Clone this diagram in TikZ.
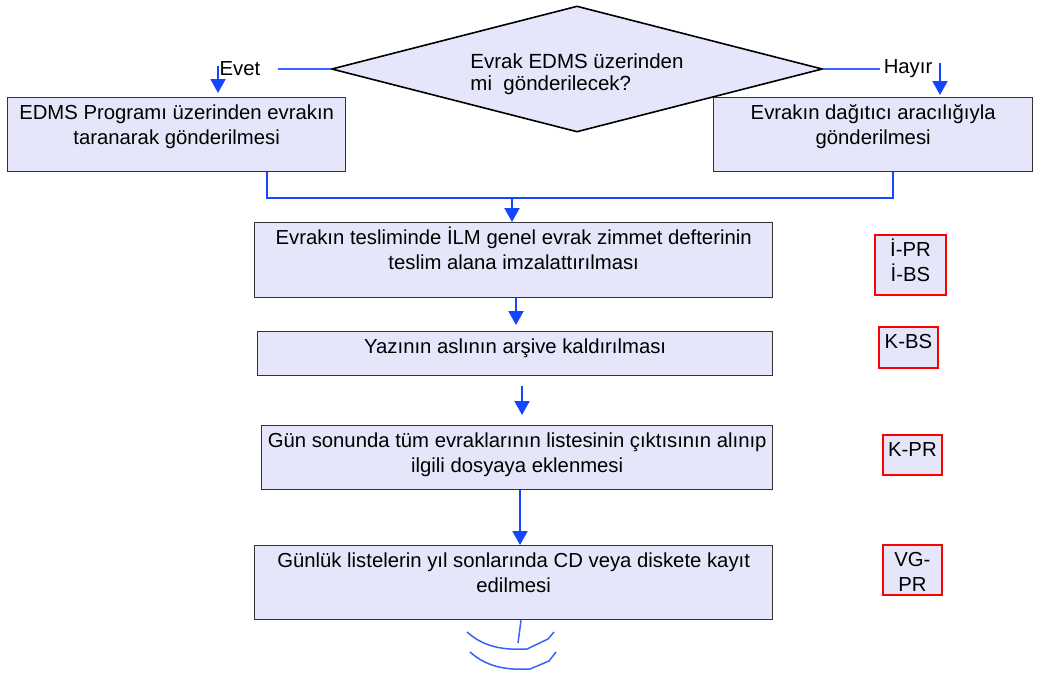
\documentclass[tikz,border=0pt]{standalone}
\usepackage{fontspec}
\setmainfont{Liberation Sans}
\usepackage{tikz}
\usetikzlibrary{arrows.meta,shapes.geometric}
\definecolor{lavbox}{RGB}{230,230,250}
\definecolor{flowblue}{RGB}{20,70,255}
\definecolor{edgegray}{RGB}{51,51,51}
\newcommand{\boxtxt}[3]{\parbox[c][#2][t]{#1}{\centering\rule{0pt}{22pt}#3}}

\begin{document}
\begin{tikzpicture}[x=1pt,y=-1pt,>={Triangle[width=15pt,length=14pt]},
	font=\fontsize{20.3}{25}\selectfont,
	procbox/.style={draw=edgegray,fill=lavbox,line width=1.3pt,inner sep=0pt,anchor=north west},
	docbox/.style={draw=red,fill=lavbox,line width=1.8pt,inner sep=0pt,anchor=north west},
	decision/.style={diamond,draw=black,fill=lavbox,line width=1.6pt,aspect=3.9,minimum width=491pt,minimum height=126pt,inner sep=0pt,align=left,font=\fontsize{20.5}{22}\selectfont},
	flow/.style={draw=flowblue,line width=2pt},
	thinflow/.style={draw=flowblue!85,line width=1.5pt}]
	\useasboundingbox (0,0) rectangle (1043,673);

	\node [decision]	(dec)		at (577,69)		{\rule{0pt}{25pt}Evrak EDMS üzerinden\\mi\ \ gönderilecek?};
	\node				(evet)		at (240,69)		{Evet};
	\node				(hayir)		at (908,69)		{Hayır};
	\node [procbox]		(epb)		at (7,97)		{\boxtxt{338pt}{74pt}{EDMS Programı üzerinden evrakın\\taranarak gönderilmesi}};
	\node [procbox]		(dag)		at (713,97)		{\boxtxt{319pt}{74pt}{Evrakın dağıtıcı aracılığıyla\\gönderilmesi}};
	\node [procbox]		(teslim)	at (254,222)	{\boxtxt{518pt}{75pt}{Evrakın tesliminde İLM genel evrak zimmet defterinin\\teslim alana imzalattırılması}};
	\node [procbox]		(arsiv)		at (257,331)	{\boxtxt{515pt}{44pt}{Yazının aslının arşive kaldırılması}};
	\node [procbox]		(liste)		at (261,425)	{\boxtxt{511pt}{64pt}{Gün sonunda tüm evraklarının listesinin çıktısının alınıp\\ilgili dosyaya eklenmesi}};
	\node [procbox]		(kayit)		at (254,545)	{\boxtxt{518pt}{74pt}{Günlük listelerin yıl sonlarında CD veya diskete kayıt\\edilmesi}};
	\node [docbox]		(ipr)		at (874,234)	{\boxtxt{71pt}{60pt}{İ-PR\\İ-BS}};
	\node [docbox]		(kbs)		at (878,326)	{\boxtxt{59pt}{41pt}{K-BS}};
	\node [docbox]		(kpr)		at (882,434)	{\boxtxt{59pt}{40pt}{K-PR}};
	\node [docbox]		(vgpr)		at (882,544)	{\boxtxt{59pt}{50pt}{VG-\\PR}};

	\coordinate (evettop)	at (218,66);
	\coordinate (hayirtop)	at (940,63);
	\coordinate (jl)		at (267,198);
	\coordinate (jr)		at (893,198);
	\coordinate (jm)		at (512,198);
	\coordinate (a2)		at (516,0);
	\coordinate (a3)		at (522,0);
	\coordinate (a4)		at (520,0);
	\coordinate (tailend)	at (518,643);

	% Evet / Hayir
	\draw [thinflow]		([xshift=14pt]evet.east) -- (dec.west);
	\draw [thinflow]		(dec.east) -- (hayir.west);
	\draw [flow,->,shorten >=4pt]	(evettop) -- (evettop |- epb.north);
	\draw [flow,->,shorten >=2pt]	(hayirtop) -- (hayirtop |- dag.north);

	% join
	\draw [flow]		(jl |- epb.south) -- (jl) -- (jr) -- (jr |- dag.south);
	\draw [flow,->]		(jm) -- (jm |- teslim.north);

	\draw [flow,->,shorten >=6pt]					(a2 |- teslim.south) -- (a2 |- arsiv.north);
	\draw [flow,->,shorten <=10pt,shorten >=10pt]	(a3 |- arsiv.south) -- (a3 |- liste.north);
	\draw [flow,->]									(a4 |- liste.south) -- (a4 |- kayit.north);

	% end mark
	\draw [thinflow]	(kayit.south -| 521,0) -- (tailend);
	\draw [thinflow]	(467,632) .. controls (485,648) and (505,650) .. (527,649) -- (548,639) -- (554,632);
	\draw [thinflow]	(470,652) .. controls (488,668) and (508,670) .. (530,669) -- (549,661) -- (556,652);
\end{tikzpicture}
\end{document}
